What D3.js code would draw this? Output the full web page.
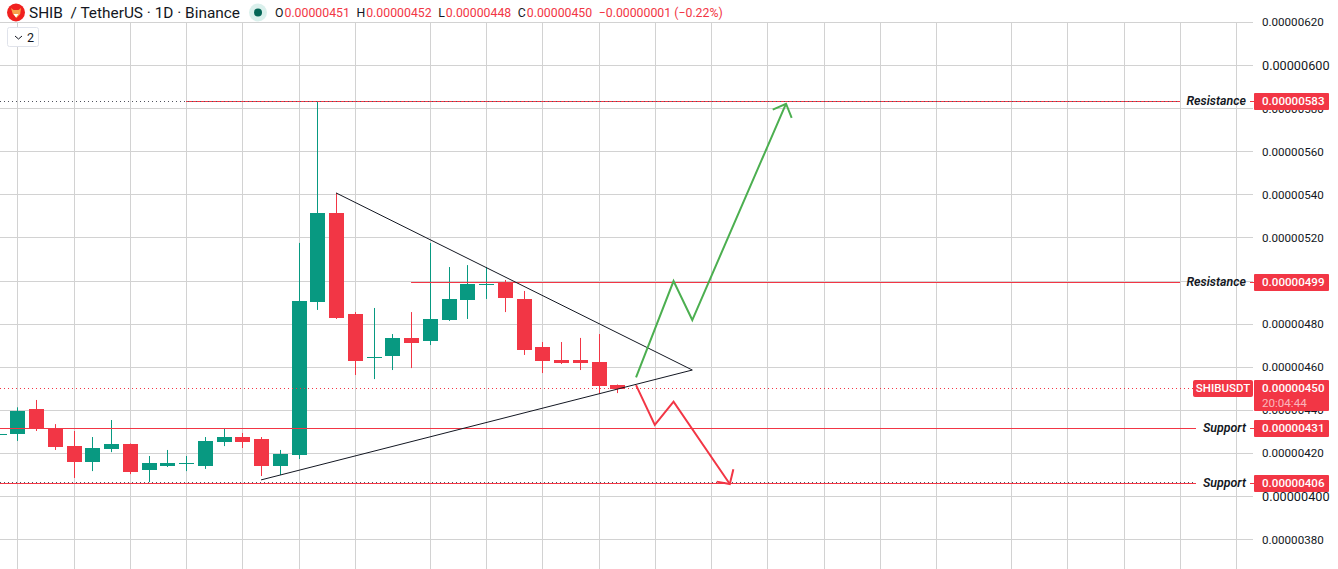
<!DOCTYPE html>
<html>
<head>
<meta charset="utf-8">
<script src="https://cdn.jsdelivr.net/npm/d3@7"></script>
<style>
  html, body { margin: 0; padding: 0; background: #fff; overflow: hidden; }
  svg { display: block; }
  text { font-family: Roboto, sans-serif; }
</style>
</head>
<body>
<div id="chart"></div>
<script>
// prices are in units of 0.00000001, bars are counted from the first full candle
const barIndex = d3.range(-1, 33);
const opens =  [428.6,429,440.6,431.6,423.4,416,422,424.4,412.3,414.1,415.1,414.1,425.3,427.6,426.7,414.1,419.3,490.3,531.6,484.7,464.3,465.2,473.6,472.2,481.9,491.2,498.2,499.6,491.7,469.4,463.4,463.4,462.4,451.6];
const highs =  [429.6,441.4,444.8,433.6,430.4,427.6,435.5,424.6,418.8,421.6,418.8,427.6,431.8,429.5,427.6,421.6,517.7,583.3,540.9,485.6,487.5,475.4,485.6,517.7,506.5,507.4,506.5,500.5,495.4,471.7,471.7,473.6,475.4,452];
const lows =   [428.2,425.8,430.4,421.6,408.6,411.8,420.6,410.4,406.7,413.7,411.8,412.8,423.4,422.5,409.5,410,417.4,486.6,482.4,456.4,454.5,458.7,459.6,470.3,481.5,482.4,491.7,485.6,465.7,457.3,461.5,458.7,447.6,448];
const closes = [429,439.7,431.6,423,416,422.5,424.4,411.4,415.5,415.5,415.4,425.8,427.6,425.3,414.1,419.7,490.7,531.6,482.8,462.9,464.7,473.6,471.2,482.4,491.7,498.6,498.6,492.1,468,462.9,462,462,451.3,449.9];

const priceTicks = [620,600,580,560,540,520,500,480,460,440,420,400,380];
const gridBars = [0,3,6,9,12,15,18,22,25,28,31,34,37,40,43,46,49,53,56,59,62,65];

const levelPrices = [583.4,499.2,431.6,406.1];
const levelNames = ['Resistance','Resistance','Support','Support'];
const levelLabels = ['0.00000583','0.00000499','0.00000431','0.00000406'];
const levelStarts = [9,21,-1,-1];

const lastPrice = 450.3;

// drawn lines: [bar, price]
const triangle = [[17,540.9],[36,458.7],[13,407.7]];
const greenPath = [[33,455.3],[35,500],[36,481.9],[41,582.3]];
const greenHead = [[40.29,579.6],[41,582.3],[41.3,575.7]];
const redPath = [[33,451.7],[34,433.2],[35,444],[38,405.8]];
const redHead = [[37.3,406.9],[38,405.8],[38.19,412.6]];

const legendParts = [
  ['O','0.00000451'],['H','0.00000452'],['L','0.00000448'],['C','0.00000450']
];
const legendChange = '\u22120.00000001 (\u22120.22%)';

const width = 1338, height = 569;
const red = '#f23645', green = '#089981', gridColor = '#d2d2d2', ink = '#131722';

const x = d3.scaleLinear().domain([0, 32]).range([17.3, 617.3]);
const y = d3.scaleLinear().domain([620, 400]).range([22.5, 496.5]);
const px = (i) => Math.round(x(i)) + 0.5;
const crisp = (v) => Math.floor(y(v)) + 0.5;

const svg = d3.select('#chart').append('svg')
  .attr('width', width)
  .attr('height', height);

// Grid
svg.append('g').selectAll('line')
  .data(gridBars)
  .enter()
  .append('line')
  .attr('x1', (d) => px(d))
  .attr('x2', (d) => px(d))
  .attr('y1', 22)
  .attr('y2', height)
  .attr('stroke', gridColor);

svg.append('g').selectAll('line')
  .data(priceTicks)
  .enter()
  .append('line')
  .attr('x1', 0)
  .attr('x2', 1253)
  .attr('y1', (d) => crisp(d))
  .attr('y2', (d) => crisp(d))
  .attr('stroke', gridColor);

// Price axis labels
const yAxis = d3.axisRight(y)
  .tickValues(priceTicks)
  .tickSize(0)
  .tickPadding(0)
  .tickFormat((d) => (d / 1e8).toFixed(8));

const axisG = svg.append('g')
  .attr('transform', 'translate(1262,0)')
  .call(yAxis);
axisG.select('.domain').remove();
axisG.selectAll('text')
  .attr('font-family', 'Roboto, sans-serif')
  .attr('font-size', (d) => (d === 600 || d === 400 ? 12.7 : 11.6))
  .attr('fill', ink)
  .attr('dy', '0.3em');

// Candles
const bars = svg.append('g').selectAll('g')
  .data(barIndex)
  .enter()
  .append('g')
  .attr('fill', (d, i) => (closes[i] >= opens[i] ? green : red))
  .attr('stroke', 'none');

bars.append('rect')
  .attr('x', (d) => px(d) - 0.5)
  .attr('width', 1)
  .attr('y', (d, i) => y(highs[i]))
  .attr('height', (d, i) => y(lows[i]) - y(highs[i]));

bars.append('rect')
  .attr('x', (d) => px(d) - 7.5)
  .attr('width', 15)
  .attr('y', (d, i) => Math.round(y(Math.max(opens[i], closes[i]))))
  .attr('height', (d, i) => Math.max(1, Math.round(Math.abs(y(opens[i]) - y(closes[i])))));

// Horizontal levels
levelPrices.forEach((p, i) => {
  const end = levelNames[i] === 'Support' ? 1196 : 1180;
  svg.append('line')
    .attr('x1', levelStarts[i] < 0 ? 0 : x(levelStarts[i]))
    .attr('x2', end)
    .attr('y1', crisp(p))
    .attr('y2', crisp(p))
    .attr('stroke', red);

  svg.append('line')
    .attr('x1', 1250).attr('x2', 1254)
    .attr('y1', crisp(p)).attr('y2', crisp(p))
    .attr('stroke', red);

  svg.append('text')
    .attr('x', 1246)
    .attr('y', crisp(p))
    .attr('dy', '0.3em')
    .attr('text-anchor', 'end')
    .attr('font-family', '"Open Sans", sans-serif')
    .attr('font-size', 12.4)
    .attr('font-style', 'italic')
    .attr('font-weight', 600)
    .attr('fill', ink)
    .text(levelNames[i]);

  svg.append('rect')
    .attr('x', 1254).attr('y', crisp(p) - 8.5)
    .attr('width', 75).attr('height', 17).attr('rx', 1)
    .attr('fill', red);

  svg.append('text')
    .attr('x', 1262)
    .attr('y', crisp(p))
    .attr('dy', '0.33em')
    .attr('font-size', 11.6)
    .attr('font-weight', 500)
    .attr('fill', '#fff')
    .text(levelLabels[i]);
});

// dotted lines over the top and bottom levels
svg.append('line')
  .attr('x1', 0).attr('x2', 1180)
  .attr('y1', crisp(levelPrices[0])).attr('y2', crisp(levelPrices[0]))
  .attr('stroke', '#50535e').attr('stroke-dasharray', '1,3');
svg.append('line')
  .attr('x1', 0).attr('x2', 1196)
  .attr('y1', crisp(levelPrices[3]) - 1).attr('y2', crisp(levelPrices[3]) - 1)
  .attr('stroke', '#50535e').attr('stroke-dasharray', '1,3');

// Last price line and tags
svg.append('line')
  .attr('x1', 0).attr('x2', 1193)
  .attr('y1', crisp(lastPrice)).attr('y2', crisp(lastPrice))
  .attr('stroke', red).attr('stroke-dasharray', '1,3');

svg.append('rect')
  .attr('x', 1193).attr('y', crisp(lastPrice) - 8.5)
  .attr('width', 60).attr('height', 17).attr('rx', 2)
  .attr('fill', red);
svg.append('text')
  .attr('x', 1223).attr('y', crisp(lastPrice))
  .attr('dy', '0.33em').attr('text-anchor', 'middle')
  .attr('font-size', 11.5).attr('font-weight', 500).attr('fill', '#fff')
  .text('SHIBUSDT');
svg.append('rect')
  .attr('x', 1254).attr('y', crisp(lastPrice) - 8.5)
  .attr('width', 75).attr('height', 31).attr('rx', 1)
  .attr('fill', red);
svg.append('text')
  .attr('x', 1262).attr('y', crisp(lastPrice))
  .attr('dy', '0.33em')
  .attr('font-size', 11.6).attr('font-weight', 500).attr('fill', '#fff')
  .text((lastPrice / 1e8).toFixed(8));
svg.append('text')
  .attr('x', 1262).attr('y', crisp(lastPrice) + 15)
  .attr('dy', '0.33em')
  .attr('font-size', 11.6).attr('fill', '#fff').attr('fill-opacity', 0.65)
  .text('20:04:44');

// Drawings
const linePath = d3.line().x((d) => x(d[0])).y((d) => y(d[1]));

svg.append('path')
  .attr('d', linePath(triangle))
  .attr('fill', 'none').attr('stroke', ink).attr('stroke-width', 1);

[[greenPath, greenHead, '#4caf50'], [redPath, redHead, red]].forEach((d) => {
  svg.append('path')
    .attr('d', linePath(d[0]))
    .attr('fill', 'none').attr('stroke', d[2]).attr('stroke-width', 2);
  svg.append('path')
    .attr('d', linePath(d[1]))
    .attr('fill', 'none').attr('stroke', d[2]).attr('stroke-width', 2);
});

// Header legend
const header = svg.append('g');
header.append('circle').attr('cx', 16).attr('cy', 12.5).attr('r', 9).attr('fill', '#f0211f');
header.append('path').attr('d', 'M11 8l2.5 2h5l2.5-2-.8 6-3.7 4-3.7-4z').attr('fill', '#f7a14a');
header.append('path').attr('d', 'M13.5 14h5l-2.5 3.5z').attr('fill', '#fff');
header.append('text')
  .attr('x', 29).attr('y', 18)
  .attr('font-family', '"Open Sans", sans-serif')
  .attr('font-size', 15.4).attr('fill', ink)
  .style('white-space', 'pre')
  .text('SHIB  / TetherUS \u00b7 1D \u00b7 Binance');
header.append('circle').attr('cx', 258).attr('cy', 12.5).attr('r', 9).attr('fill', green).attr('fill-opacity', 0.15);
header.append('circle').attr('cx', 258).attr('cy', 12.5).attr('r', 4).attr('fill', '#056656');

let legendX = 275;
legendParts.forEach((d) => {
  const letter = header.append('text').attr('x', legendX).attr('y', 17).attr('font-size', 12.3).attr('fill', ink).text(d[0]);
  legendX += letter.node().getComputedTextLength() + 1;
  const value = header.append('text').attr('x', legendX).attr('y', 17).attr('font-size', 12.3).attr('fill', red).text(d[1]);
  legendX += value.node().getComputedTextLength() + 6.5;
});
header.append('text').attr('x', legendX).attr('y', 17).attr('font-size', 12.3).attr('fill', red).text(legendChange);

// Collapse button
svg.append('rect')
  .attr('x', 7.5).attr('y', 27.5).attr('width', 31).attr('height', 19).attr('rx', 2)
  .attr('fill', '#fff').attr('stroke', '#e0e3eb');
svg.append('path').attr('d', 'M15 36l3.5 3 3.5-3').attr('fill', 'none').attr('stroke', ink);
svg.append('text').attr('x', 27).attr('y', 42).attr('font-size', 12.5).attr('fill', ink).text('2');
</script>
</body>
</html>
